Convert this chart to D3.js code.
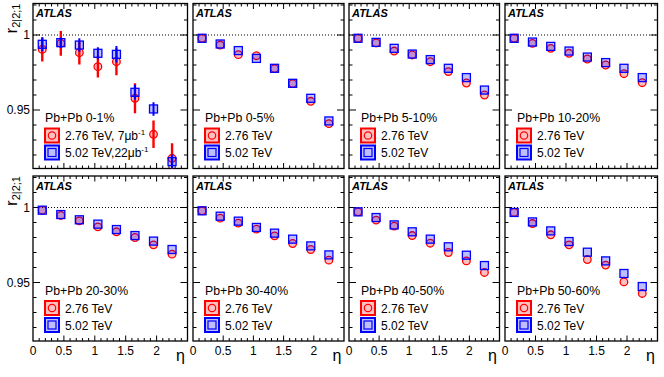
<!DOCTYPE html>
<html>
<head>
<meta charset="utf-8">
<script src="https://cdn.jsdelivr.net/npm/d3@7"></script>
<style>
  body { margin: 0; background: #fff; }
  text { font-family: "Liberation Sans", Arial, sans-serif; fill: #000; }
</style>
</head>
<body>
<svg id="chart" width="664" height="377"></svg>
<script>
// eta bin centres, same for every panel
const etaBins = [0.15, 0.45, 0.75, 1.05, 1.35, 1.65, 1.95, 2.25];
const centralities = ["0-1%", "0-5%", "5-10%", "10-20%", "20-30%", "30-40%", "40-50%", "50-60%"];

// r_{2|2;1} at 2.76 TeV, one row per centrality
const r276 = [
  [0.9904, 0.9944, 0.9882, 0.9789, 0.9822, 0.9578, 0.9338, 0.9178],
  [0.9978, 0.9933, 0.9869, 0.9862, 0.9776, 0.9676, 0.9558, 0.9409],
  [0.9978, 0.9947, 0.9893, 0.9867, 0.9822, 0.9756, 0.9680, 0.9600],
  [0.9978, 0.9944, 0.9911, 0.9878, 0.9840, 0.9800, 0.9742, 0.9682],
  [0.9982, 0.9947, 0.9911, 0.9871, 0.9838, 0.9800, 0.9751, 0.9689],
  [0.9978, 0.9929, 0.9896, 0.9856, 0.9811, 0.9760, 0.9720, 0.9649],
  [0.9971, 0.9916, 0.9876, 0.9813, 0.9762, 0.9700, 0.9644, 0.9567],
  [0.9967, 0.9893, 0.9818, 0.9751, 0.9653, 0.9616, 0.9504, 0.9427]
];
// r_{2|2;1} at 5.02 TeV
const r502 = [
  [0.9938, 0.9949, 0.9933, 0.9878, 0.9871, 0.9618, 0.9507, 0.9156],
  [0.9978, 0.9940, 0.9896, 0.9844, 0.9778, 0.9678, 0.9578, 0.9427],
  [0.9978, 0.9951, 0.9911, 0.9873, 0.9836, 0.9778, 0.9716, 0.9633],
  [0.9978, 0.9953, 0.9924, 0.9893, 0.9853, 0.9816, 0.9778, 0.9716],
  [0.9982, 0.9953, 0.9918, 0.9889, 0.9853, 0.9813, 0.9776, 0.9720],
  [0.9978, 0.9942, 0.9909, 0.9867, 0.9829, 0.9789, 0.9744, 0.9684],
  [0.9971, 0.9933, 0.9884, 0.9838, 0.9789, 0.9738, 0.9682, 0.9613],
  [0.9967, 0.9904, 0.9844, 0.9773, 0.9702, 0.9644, 0.9560, 0.9473]
];
// statistical errors, only visible in the 0-1% panel
const stat276 = [0.0080, 0.0083, 0.0078, 0.0072, 0.0090, 0.0100, 0.0092, 0.0100];
const stat502 = [0.0047, 0.0035, 0.0045, 0.0040, 0.0055, 0.0050, 0.0045, 0.0047];

const energies = ["2.76 TeV", "5.02 TeV"];
const lumis = [", 7\u03bcb", ",22\u03bcb"];
const yTickLabels = [0.95, 1];
const xTickLabels = [0, 0.5, 1, 1.5, 2];

const svg = d3.select("#chart");

const colX = [[33, 187.5], [193, 344], [349, 499.5], [505, 657.5]];
const rowY = [3.5, 176];
const panelH = 165;
const red = "#ff0000", blue = "#0000ff";
const redFill = "rgba(255,0,0,0.25)", blueFill = "rgba(0,0,255,0.25)";

centralities.forEach((cent, i) => {
  const row = Math.floor(i / 4), col = i % 4;
  const x0 = colX[col][0], x1 = colX[col][1];
  const y0 = rowY[row];

  const x = d3.scaleLinear().domain([0, 2.5]).range([x0, x1]);
  const y = d3.scaleLinear().domain([0.911, 1.021]).range([y0 + panelH, y0]);

  const g = svg.append("g");

  const clipId = "clip" + i;
  svg.append("clipPath").attr("id", clipId)
    .append("rect").attr("x", x0).attr("y", y0).attr("width", x1 - x0).attr("height", panelH);

  // ticks: minor every 0.1 / 0.01, major every 0.5 / 0.05
  const xMinor = d3.range(0.1, 2.5, 0.1);
  xMinor.forEach(v => {
    const major = Math.abs(v / 0.5 - Math.round(v / 0.5)) < 1e-6;
    const len = major ? 5.5 : 3;
    g.append("line").attr("x1", x(v)).attr("x2", x(v))
      .attr("y1", y0 + panelH).attr("y2", y0 + panelH - len)
      .attr("stroke", "#000").attr("stroke-width", 1);
    g.append("line").attr("x1", x(v)).attr("x2", x(v))
      .attr("y1", y0).attr("y2", y0 + len)
      .attr("stroke", "#000").attr("stroke-width", 1);
  });
  const yMinor = d3.range(0.92, 1.021, 0.01);
  yMinor.forEach(v => {
    const major = Math.abs(v / 0.05 - Math.round(v / 0.05)) < 1e-6;
    const len = major ? 7 : 3.5;
    g.append("line").attr("x1", x0).attr("x2", x0 + len)
      .attr("y1", y(v)).attr("y2", y(v))
      .attr("stroke", "#000").attr("stroke-width", 1);
    g.append("line").attr("x1", x1).attr("x2", x1 - len)
      .attr("y1", y(v)).attr("y2", y(v))
      .attr("stroke", "#000").attr("stroke-width", 1);
  });

  // dotted line at 1
  g.append("line").attr("x1", x0).attr("x2", x1)
    .attr("y1", y(1)).attr("y2", y(1))
    .attr("stroke", "#000").attr("stroke-width", 1).attr("stroke-dasharray", "1,2");

  // frame
  g.append("rect").attr("x", x0).attr("y", y0)
    .attr("width", x1 - x0).attr("height", panelH)
    .attr("fill", "none").attr("stroke", "#000").attr("stroke-width", 1.3);

  // data
  const pts = g.append("g").attr("clip-path", "url(#" + clipId + ")");
  const d276 = etaBins.map((e, k) => ({ eta: e, v: r276[i][k], err: i === 0 ? stat276[k] : 0 }));
  const d502 = etaBins.map((e, k) => ({ eta: e, v: r502[i][k], err: i === 0 ? stat502[k] : 0 }));

  if (i === 0) {
    pts.selectAll(".e276").data(d276).enter().append("line")
      .attr("x1", d => x(d.eta)).attr("x2", d => x(d.eta))
      .attr("y1", d => y(d.v - d.err)).attr("y2", d => y(d.v + d.err))
      .attr("stroke", red).attr("stroke-width", 2.4);
  }
  pts.selectAll(".m276").data(d276).enter().append("circle")
    .attr("cx", d => x(d.eta)).attr("cy", d => y(d.v)).attr("r", 3.8)
    .attr("fill", redFill).attr("stroke", red).attr("stroke-width", 1.3);

  if (i === 0) {
    pts.selectAll(".e502").data(d502).enter().append("line")
      .attr("x1", d => x(d.eta)).attr("x2", d => x(d.eta))
      .attr("y1", d => y(d.v - d.err)).attr("y2", d => y(d.v + d.err))
      .attr("stroke", blue).attr("stroke-width", 2);
  }
  pts.selectAll(".m502").data(d502).enter().append("rect")
    .attr("x", d => x(d.eta) - 4).attr("y", d => y(d.v) - 4)
    .attr("width", 8).attr("height", 8)
    .attr("fill", blueFill).attr("stroke", blue).attr("stroke-width", 1.3);

  // ATLAS label
  g.append("text").attr("x", x0 + 3).attr("y", y0 + 13.5)
    .attr("font-size", 11).attr("font-weight", "bold").attr("font-style", "italic")
    .text("ATLAS");

  // legend
  const lx = x0 + 19;
  g.append("text").attr("x", x0 + 12).attr("y", y0 + 118.5)
    .attr("font-size", 12.3).text("Pb+Pb " + cent);

  const rowsLeg = [
    { cy: y0 + 132, col: red, fill: redFill, label: energies[0], lumi: lumis[0] },
    { cy: y0 + 149, col: blue, fill: blueFill, label: energies[1], lumi: lumis[1] }
  ];
  rowsLeg.forEach((L, k) => {
    g.append("rect").attr("x", lx - 7).attr("y", L.cy - 7).attr("width", 14).attr("height", 14)
      .attr("fill", L.fill).attr("stroke", L.col).attr("stroke-width", 2);
    if (k === 0) {
      g.append("circle").attr("cx", lx).attr("cy", L.cy).attr("r", 3.7)
        .attr("fill", "none").attr("stroke", L.col).attr("stroke-width", 1.2);
    } else {
      g.append("rect").attr("x", lx - 4).attr("y", L.cy - 4).attr("width", 8).attr("height", 8)
        .attr("fill", "none").attr("stroke", L.col).attr("stroke-width", 1.2);
    }
    const t = g.append("text").attr("x", x0 + 32).attr("y", L.cy + 4.5).attr("font-size", 12);
    t.append("tspan").text(L.label + (i === 0 ? L.lumi : ""));
    if (i === 0) {
      t.append("tspan").attr("font-size", 8).attr("dy", -5).text("-1");
    }
  });

  // y tick labels and title on the left column
  if (col === 0) {
    yTickLabels.forEach(v => {
      svg.append("text").attr("x", x0 - 3).attr("y", y(v) + 4.3)
        .attr("text-anchor", "end").attr("font-size", 12).text(v);
    });
    const yt = svg.append("text")
      .attr("transform", `translate(17,${y0 + 30}) rotate(-90)`);
    yt.append("tspan").attr("font-size", 17).text("r");
    yt.append("tspan").attr("font-size", 11).attr("dy", 2.5).text("2|2;1");
  }

  // x tick labels and title on the bottom row
  if (row === 1) {
    xTickLabels.forEach(v => {
      svg.append("text").attr("x", x(v)).attr("y", y0 + panelH + 14)
        .attr("text-anchor", "middle").attr("font-size", 12).text(v);
    });
    svg.append("text").attr("x", x1 - 7).attr("y", y0 + panelH + 20)
      .attr("text-anchor", "middle").attr("font-size", 16).text("\u03b7");
  }
});
</script>
</body>
</html>
